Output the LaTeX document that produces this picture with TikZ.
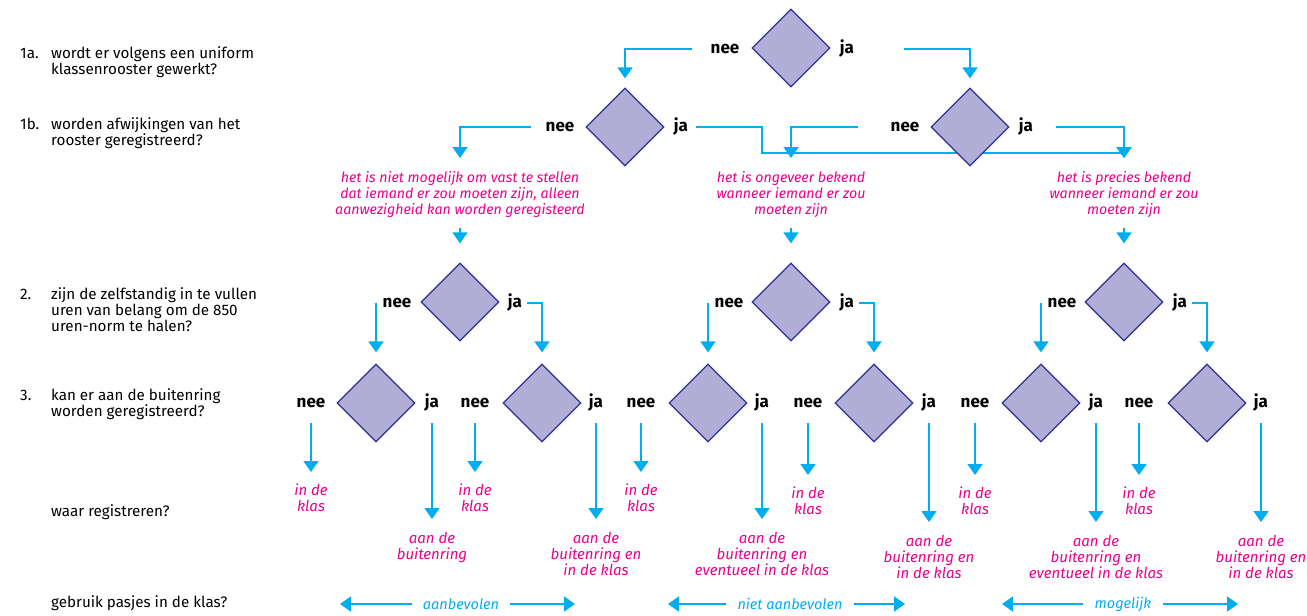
\documentclass[tikz,border=0pt]{standalone}
\usepackage{fontspec}
\setmainfont{Fira Sans}
\usetikzlibrary{shapes.geometric,arrows.meta,backgrounds}
\definecolor{blauw}{HTML}{00AEEF}
\definecolor{roze}{HTML}{EC008C}
\definecolor{ruit}{HTML}{B1ADD6}
\definecolor{rand}{HTML}{2E3192}

\begin{document}
\begin{tikzpicture}[x=1pt,y=-1pt,
  ruitje/.style={diamond,aspect=1,draw=rand,fill=ruit,line width=1.3pt,minimum width=78pt,minimum height=78pt,inner sep=0pt},
  keuze/.style={font=\fontsize{17}{17}\selectfont\bfseries,inner sep=0pt,text height=11pt,text depth=3pt},
  vraag/.style={anchor=west,inner sep=0pt,font=\fontsize{15.2}{15}\selectfont},
  uitleg/.style={anchor=north,align=center,inner sep=0pt,text=roze,font=\fontsize{14.2}{16}\selectfont\itshape},
  plek/.style={anchor=north,align=center,inner sep=0pt,text=roze,font=\fontsize{15}{16}\selectfont\itshape},
  pasje/.style={text=blauw,inner xsep=11pt,inner ysep=0pt,font=\fontsize{14.5}{14}\selectfont\itshape},
  pijl/.style={draw=blauw,line width=1.8pt,-{Triangle[width=15pt,length=11pt]}}]
  \useasboundingbox (0,0) rectangle (1307,616);

  \node[vraag] (q1a) at (20,63) {\begin{tabular}{@{}p{31pt}@{}l@{}}1a. & wordt er volgens een uniform\\ & klassenrooster gewerkt?\end{tabular}};
  \node[vraag] (q1b) at (20,134) {\begin{tabular}{@{}p{31pt}@{}l@{}}1b. & worden afwijkingen van het\\ & rooster geregistreerd?\end{tabular}};
  \node[vraag] (q2) at (20,312) {\begin{tabular}{@{}p{31pt}@{}l@{}}2. & zijn de zelfstandig in te vullen\\ & uren van belang om de 850\\ & uren-norm te halen?\end{tabular}};
  \node[vraag] (q3) at (20,405) {\begin{tabular}{@{}p{31pt}@{}l@{}}3. & kan er aan de buitenring\\ & worden geregistreerd?\end{tabular}};
  \node[vraag] (q4) at (51,512) {waar registreren?};
  \node[vraag] (q5) at (51,603) {gebruik pasjes in de klas?};

  % 1a / 1b
  \node[ruitje] (r0) at (791,48) {};
  \node[keuze] (r0n) at (725,49) {nee};
  \node[keuze] (r0j) at (847,49) {ja};
  \node[ruitje] (r1) at (625,127) {};
  \node[keuze] (r1n) at (560,127) {nee};
  \node[keuze] (r1j) at (681,127) {ja};
  \node[ruitje] (r2) at (970,127) {};
  \node[keuze] (r2n) at (905,127) {nee};
  \node[keuze] (r2j) at (1026,127) {ja};

  \node[uitleg] (u1) at (460,171) {het is niet mogelijk om vast te stellen\\dat iemand er zou moeten zijn, alleen\\aanwezigheid kan worden geregisteerd};
  \node[uitleg] (u2) at (791,171) {het is ongeveer bekend\\wanneer iemand er zou\\moeten zijn};
  \node[uitleg] (u3) at (1124,171) {het is precies bekend\\wanneer iemand er zou\\moeten zijn};

  % 2
  \node[ruitje] (s1) at (460,302) {};
  \node[keuze] (s1n) at (397,303) {nee};
  \node[keuze] (s1j) at (515,303) {ja};
  \node[ruitje] (s2) at (791,302) {};
  \node[keuze] (s2n) at (729,303) {nee};
  \node[keuze] (s2j) at (847,303) {ja};
  \node[ruitje] (s3) at (1124,302) {};
  \node[keuze] (s3n) at (1062,303) {nee};
  \node[keuze] (s3j) at (1180,303) {ja};

  % 3
  \node[ruitje] (t1) at (376,403) {};
  \node[keuze] (t1n) at (311,403) {nee};
  \node[keuze] (t1j) at (432,403) {ja};
  \node[ruitje] (t2) at (542,403) {};
  \node[keuze] (t2n) at (475,403) {nee};
  \node[keuze] (t2j) at (596,403) {ja};
  \node[ruitje] (t3) at (708,403) {};
  \node[keuze] (t3n) at (641,403) {nee};
  \node[keuze] (t3j) at (762,403) {ja};
  \node[ruitje] (t4) at (874,403) {};
  \node[keuze] (t4n) at (808,403) {nee};
  \node[keuze] (t4j) at (929,403) {ja};
  \node[ruitje] (t5) at (1041,403) {};
  \node[keuze] (t5n) at (975,403) {nee};
  \node[keuze] (t5j) at (1096,403) {ja};
  \node[ruitje] (t6) at (1207,403) {};
  \node[keuze] (t6n) at (1139,403) {nee};
  \node[keuze] (t6j) at (1261,403) {ja};

  % waar registreren
  \node[plek] (k1) at (311,484) {in de\\klas};
  \node[plek] (a1) at (432,532) {aan de\\buitenring};
  \node[plek] (k2) at (475,484) {in de\\klas};
  \node[plek] (a2) at (596,532) {aan de\\buitenring en\\in de klas};
  \node[plek] (k3) at (641,484) {in de\\klas};
  \node[plek] (a3) at (762,532) {aan de\\buitenring en\\eventueel in de klas};
  \node[plek] (k4) at (808,487) {in de\\klas};
  \node[plek] (a4) at (929,535) {aan de\\buitenring en\\in de klas};
  \node[plek] (k5) at (975,487) {in de\\klas};
  \node[plek] (a5) at (1096,535) {aan de\\buitenring en\\eventueel in de klas};
  \node[plek] (k6) at (1139,487) {in de\\klas};
  \node[plek] (a6) at (1261,535) {aan de\\buitenring en\\in de klas};

  % pasjes
  \node[pasje] (p1) at (461,604) {aanbevolen};
  \coordinate (p1l) at (340,604);
  \coordinate (p1r) at (575,604);
  \node[pasje] (p2) at (790,604) {niet aanbevolen};
  \coordinate (p2l) at (668,604);
  \coordinate (p2r) at (905,604);
  \node[pasje] (p3) at (1123,604) {mogelijk};
  \coordinate (p3l) at (1002,604);
  \coordinate (p3r) at (1238,604);

  \begin{pgfonlayer}{background}
    \draw[pijl] ([xshift=-19pt]r0n.west) -| ([yshift=9pt]r1.north);
    \draw[pijl] ([xshift=50pt]r0j.east) -| ([yshift=9pt]r2.north);
    \draw[pijl] ([xshift=-15pt]r1n.west) -| ([yshift=13pt]u1.north);
    \draw[pijl] ([xshift=8pt]r1j.east) -| ++(66,26) -| ([yshift=13pt]u3.north);
    \draw[pijl] ([xshift=-33pt]r2n.west) -| ([yshift=13pt]u2.north);
    \draw[pijl] ([xshift=23pt]r2j.east) -| ([yshift=13pt]u3.north);
  \end{pgfonlayer}
  \draw[pijl,shorten <=10pt] (u1.south) -- ([yshift=19pt]s1.north);
  \draw[pijl,shorten <=10pt] (u2.south) -- ([yshift=19pt]s2.north);
  \draw[pijl,shorten <=10pt] (u3.south) -- ([yshift=19pt]s3.north);

  \draw[pijl] (s1n.west -| t1.north) -- ([yshift=11pt]t1.north);
  \draw[pijl] ([xshift=5pt]s1j.east) -| ([yshift=11pt]t2.north);
  \draw[pijl] (s2n.west -| t3.north) -- ([yshift=11pt]t3.north);
  \draw[pijl] ([xshift=5pt]s2j.east) -| ([yshift=11pt]t4.north);
  \draw[pijl] (s3n.west -| t5.north) -- ([yshift=11pt]t5.north);
  \draw[pijl] ([xshift=5pt]s3j.east) -| ([yshift=11pt]t6.north);

  \draw[pijl,shorten <=13pt,shorten >=12pt] (t1n.south) -- (k1.north);
  \draw[pijl,shorten <=13pt,shorten >=13pt] (t1j.south) -- (a1.north);
  \draw[pijl,shorten <=13pt,shorten >=12pt] (t2n.south) -- (k2.north);
  \draw[pijl,shorten <=13pt,shorten >=13pt] (t2j.south) -- (a2.north);
  \draw[pijl,shorten <=13pt,shorten >=12pt] (t3n.south) -- (k3.north);
  \draw[pijl,shorten <=13pt,shorten >=13pt] (t3j.south) -- (a3.north);
  \draw[pijl,shorten <=13pt,shorten >=12pt] (t4n.south) -- (k4.north);
  \draw[pijl,shorten <=13pt,shorten >=13pt] (t4j.south) -- (a4.north);
  \draw[pijl,shorten <=13pt,shorten >=12pt] (t5n.south) -- (k5.north);
  \draw[pijl,shorten <=13pt,shorten >=13pt] (t5j.south) -- (a5.north);
  \draw[pijl,shorten <=13pt,shorten >=12pt] (t6n.south) -- (k6.north);
  \draw[pijl,shorten <=13pt,shorten >=13pt] (t6j.south) -- (a6.north);

  \draw[pijl] (p1) -- (p1l);
  \draw[pijl] (p1) -- (p1r);
  \draw[pijl] (p2) -- (p2l);
  \draw[pijl] (p2) -- (p2r);
  \draw[pijl] (p3) -- (p3l);
  \draw[pijl] (p3) -- (p3r);
\end{tikzpicture}
\end{document}
